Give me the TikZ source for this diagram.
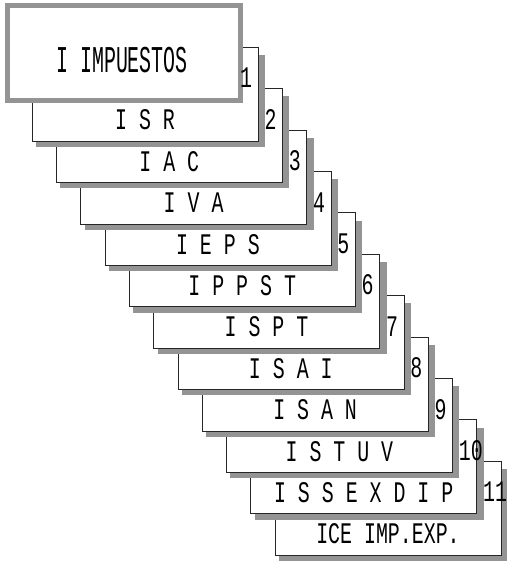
\documentclass[tikz,border=0pt]{standalone}
\usepackage{fontspec}
\setmonofont{Liberation Mono}
\usetikzlibrary{positioning}
\tikzset{
  shadowfill/.style={fill=black!42,draw=none},
  card/.style={fill=white,draw=black!85,line width=0.5pt},
  lbl/.style={font=\fontsize{17}{17}\selectfont\ttfamily,inner sep=0pt},
}
\newcommand{\vstretch}[2][1.5]{\scalebox{1}[#1]{#2}}

\begin{document}
\begin{tikzpicture}[x=0.03cm,y=-0.03cm]
  \useasboundingbox (0,0) rectangle (507,563);
  % ---------------- cards, back to front ----------------
  \foreach \k/\txt in {11/ICE IMP.EXP.,10/I S S E X D I P,9/I S T U V,8/I S A N,
                       7/I S A I,6/I S P T,5/I P P S T,4/I E P S,3/I V A,2/I A C,1/I S R}{
    \pgfmathsetmacro\xl{32+24.3*(\k-1)}
    \pgfmathsetmacro\yt{47+41.4*(\k-1)}
    \fill[shadowfill] (\xl+4,\yt+8) rectangle (\xl+233,\yt+100);
    \draw[card] (\xl,\yt) rectangle (\xl+226,\yt+94);
    \node[lbl] (lab\k) at (\xl+113,\yt+73) {\vstretch{\txt}};
  }
  % ---------------- title card ----------------
  \fill[shadowfill] (5,3) rectangle (243,103);
  \fill[white] (10,8) rectangle (238,98);
  \node[lbl] (title) at (122,60) {\vstretch[1.9]{I IMPUESTOS}};
  % ---------------- tab numbers ----------------
  \foreach \k in {1,...,11}{
    \node[lbl,anchor=west] (num\k) at ({32+24.3*(\k-1)+208},{47+41.4*(\k-1)+31}) {\vstretch{\k}};
  }
\end{tikzpicture}
\end{document}
